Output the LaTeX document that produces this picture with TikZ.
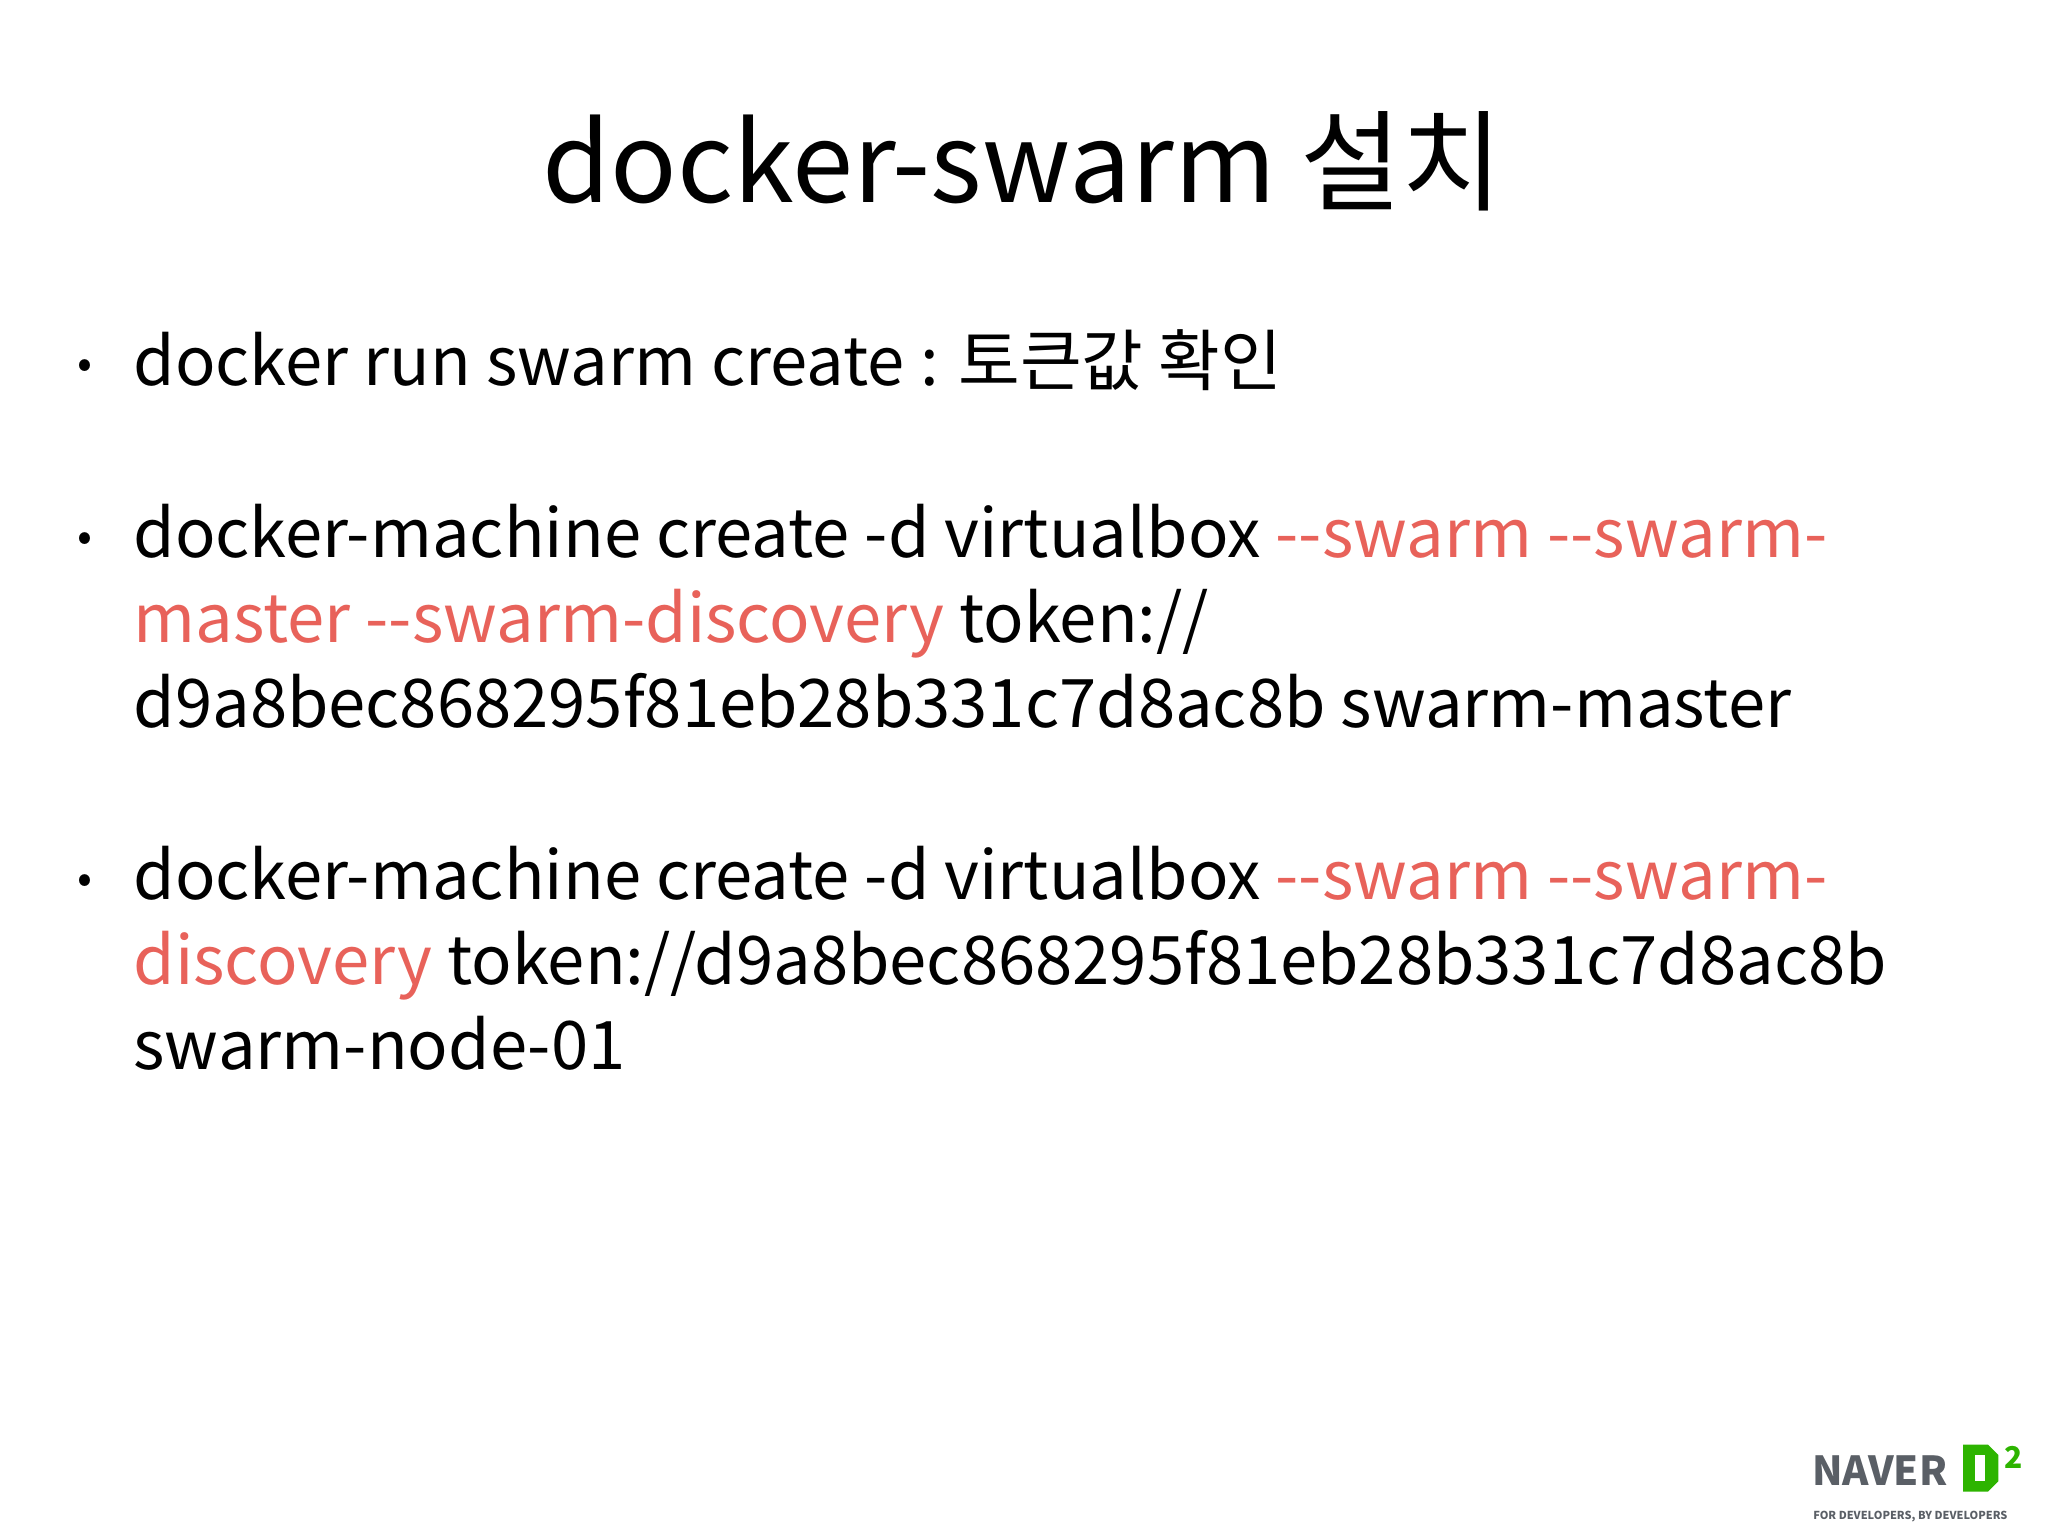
\documentclass[tikz,border=0pt]{standalone}
\usepackage{fontspec}
\setmainfont{Noto Sans CJK KR}
\definecolor{hl}{HTML}{E8625A}
\definecolor{nv}{HTML}{5A5F66}
\definecolor{ng}{HTML}{2DB400}
\newcommand{\dd}{-{}-}
\begin{document}
\begin{tikzpicture}[x=0.653pt,y=-0.653pt,
  body/.style={anchor=base west,inner sep=0,font=\fontsize{33.5}{38}\selectfont},
  bul/.style={anchor=base,inner sep=0,font=\fontsize{22}{26}\selectfont}]
\useasboundingbox (0,0) rectangle (1568,1176);
\node[anchor=base,inner sep=0,font=\fontsize{55}{62}\selectfont] (title) at (783,155) {docker-swarm 설치};
\node[bul] (b1) at (65,290) {•};
\node[body] (l1) at (102,295) {docker run swarm create : 토큰값 확인};
\node[bul] (b2) at (65,422) {•};
\node[body] (l2) at (102,427) {docker-machine create -d virtualbox \textcolor{hl}{\dd swarm \dd swarm-}};
\node[body] (l3) at (102,492) {\textcolor{hl}{master \dd swarm-discovery} token://};
\node[body] (l4) at (102,557) {d9a8bec868295f81eb28b331c7d8ac8b swarm-master};
\node[bul] (b3) at (65,684) {•};
\node[body] (l5) at (102,689) {docker-machine create -d virtualbox \textcolor{hl}{\dd swarm \dd swarm-}};
\node[body] (l6) at (102,754) {\textcolor{hl}{discovery} token://d9a8bec868295f81eb28b331c7d8ac8b};
\node[body] (l7) at (102,819) {swarm-node-01};
\node[anchor=base west,inner sep=0,text=nv,font=\fontsize{20}{22}\selectfont\bfseries] (naver) at (1387,1137) {NAVER};
\fill[ng] (1503,1106) -- (1522,1106) -- (1530,1114) -- (1530,1134) -- (1522,1142) -- (1503,1142) -- cycle;
\fill[white] (1512,1114) rectangle (1520,1134);
\node[anchor=base west,inner sep=0,text=ng,font=\fontsize{15}{16}\selectfont\bfseries] (two) at (1534,1124) {2};
\node[anchor=base west,inner sep=0,text=nv,font=\fontsize{5.5}{6}\selectfont\bfseries] (tag) at (1388,1163) {FOR DEVELOPERS, BY DEVELOPERS};
\end{tikzpicture}
\end{document}
